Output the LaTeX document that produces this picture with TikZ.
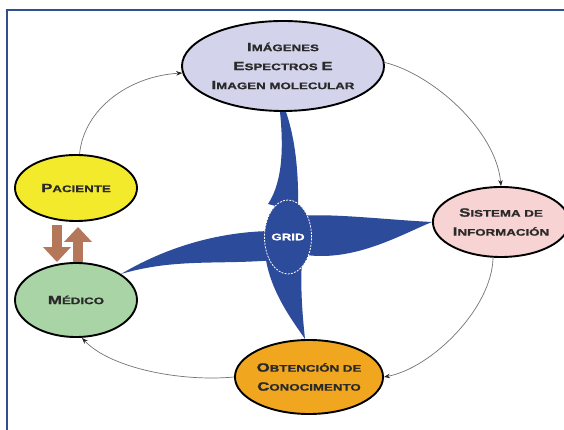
\documentclass[tikz,border=0pt]{standalone}
\usepackage{fontspec}
\setmainfont{Liberation Sans}
\newfontfamily\cpfont[FakeStretch=1.4,FakeBold=1.2]{Liberation Sans}
\usetikzlibrary{shapes.geometric,arrows.meta}

% copperplate-like small caps: large initial, smaller rest
\newcommand\cw[2]{{\fontsize{12}{19}\selectfont #1}{\fontsize{9.5}{19}\selectfont #2}}

\definecolor{framec}{HTML}{2F4F8F}
\definecolor{lav}{HTML}{D3D3EC}
\definecolor{pinkc}{HTML}{F8D3D3}
\definecolor{orangec}{HTML}{F0A61F}
\definecolor{yellowc}{HTML}{F4EA2C}
\definecolor{greenc}{HTML}{A9D5A6}
\definecolor{gridblue}{HTML}{2D4B9B}
\definecolor{brownc}{HTML}{B5775A}
\definecolor{txt}{HTML}{2A2A2A}

\tikzset{
  ell/.style={ellipse, draw=black, line width=1.9pt, inner sep=0pt, align=center,
    text=txt, font=\cpfont\bfseries\fontsize{9.5}{19}\selectfont},
  cycleline/.style={draw=black!55, line width=0.7pt,
    -{Stealth[length=6pt,width=4.5pt,color=black!85]}},
  spoke/.style={fill=gridblue},
  brownarrow/.style={draw=brownc, line width=10pt,
    -{Triangle[length=15pt,width=27pt]}},
}

\begin{document}
\begin{tikzpicture}[x=1pt,y=1pt]
\useasboundingbox (0,0) rectangle (564,430);
\fill[white] (0,0) rectangle (564,430);

% page frame
\draw[framec, line width=1.6pt] (564,420) -- (7,420) -- (7,0);

% the five stations
\node[ell, fill=lav, minimum width=194pt, minimum height=90pt] (img) at (283,364)
  {\cw{I}{MÁGENES}\\\cw{E}{SPECTROS} \cw{E}{}\\\cw{I}{MAGEN MOLECULAR}};
\node[ell, fill=pinkc, minimum width=116pt, minimum height=70pt] (sis) at (501,208)
  {\cw{S}{ISTEMA DE}\\\cw{I}{NFORMACIÓN}};
\node[ell, fill=orangec, minimum width=144pt, minimum height=74pt] (obt) at (309,53)
  {\cw{O}{BTENCIÓN DE}\\\cw{C}{ONOCIMENTO}};
\node[ell, fill=yellowc, minimum width=122pt, minimum height=66pt] (pac) at (76,242)
  {\cw{P}{ACIENTE}};
\node[ell, fill=greenc, minimum width=122pt, minimum height=74pt] (med) at (76,130)
  {\cw{M}{ÉDICO}};

% outer cycle
\draw[cycleline] (pac.84) .. controls (84,322) and (130,354) .. (img.184);
\draw[cycleline] (img.2) .. controls (432,356) and (496,300) .. (sis.north);
\draw[cycleline] ([xshift=-8pt]sis.south) .. controls (492,122) and (432,62) .. (obt.east);
\draw[cycleline] (obt.west) .. controls (180,48) and (110,62) .. ([xshift=6pt]med.south);

% patient <-> doctor
\draw[brownarrow, shorten <=3pt] ([xshift=-19pt]pac.south) -- ([xshift=-19pt]med.north);
\draw[brownarrow, shorten >=5pt] ([xshift=2pt]med.north) -- ([xshift=2pt]pac.south);

% blue spokes of the grid
\fill[spoke] ([xshift=-3pt]img.south) .. controls (283,288) and (284,250) .. (268,226)
  -- (298,218) .. controls (299,258) and (295,292) .. ([xshift=3pt]img.south) -- cycle;
\fill[spoke] (300,214) .. controls (330,217) and (390,210) .. (sis.west)
  .. controls (402,196) and (352,166) .. (300,176) -- cycle;
\fill[spoke] (275,199) .. controls (230,199) and (175,188) .. (med.30)
  .. controls (175,172) and (220,165) .. (275,170) -- cycle;
\fill[spoke] (266,170) .. controls (272,135) and (295,106) .. ([xshift=-4pt]obt.north)
  .. controls (303,110) and (300,140) .. (302,170) -- cycle;

% hub
\node[ellipse, fill=gridblue, draw=white, line width=0.8pt, dash pattern=on 2pt off 1.2pt,
  minimum width=42pt, minimum height=74pt, inner sep=0pt, text=white,
  font=\cpfont\bfseries\fontsize{9.5}{12}\selectfont] (grid) at (288,193) {GRID};
\end{tikzpicture}
\end{document}
